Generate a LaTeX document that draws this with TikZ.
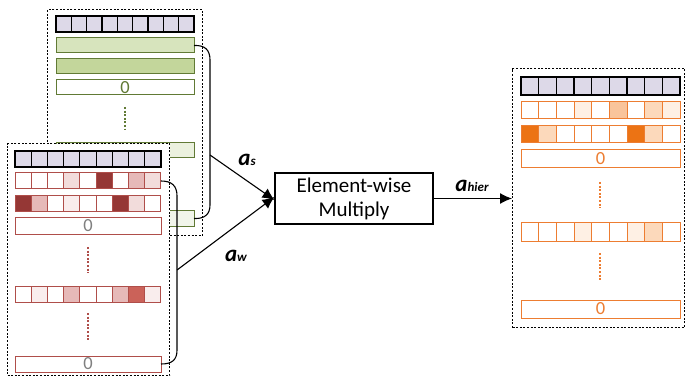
\documentclass[tikz,border=0pt]{standalone}
\usepackage{fontspec}
\setmainfont{Carlito}
\usetikzlibrary{arrows.meta}

\definecolor{lav}{HTML}{DDD9E8}
\definecolor{gline}{HTML}{617A35}
\definecolor{gA}{HTML}{D7E4BD}
\definecolor{gB}{HTML}{C3D69B}
\definecolor{gC}{HTML}{EBF1DE}
\definecolor{gD}{HTML}{F1F5EA}
\definecolor{rline}{HTML}{AF4E4A}
\definecolor{rd}{HTML}{953735}
\definecolor{rr}{HTML}{CB6259}
\definecolor{rm}{HTML}{E6B9B8}
\definecolor{rl}{HTML}{F2DCDB}
\definecolor{rv}{HTML}{F9EDED}
\definecolor{oline}{HTML}{ED7D31}
\definecolor{od}{HTML}{EC7314}
\definecolor{om}{HTML}{F9C49B}
\definecolor{ol}{HTML}{FCD9BB}
\definecolor{ov}{HTML}{FEF0E4}
\definecolor{zerotext}{HTML}{808080}

\tikzset{
  frame/.style={draw=black, line width=1.1pt, dash pattern=on 2pt off 1.6pt, fill=white},
  cellbox/.style={line width=1pt, inner sep=0pt, outer sep=0pt, anchor=north west},
  bar/.style={cellbox, minimum height=15pt, text=zerotext,
              font=\fontsize{18.5}{18.5}\selectfont},
  vdots/.style={line width=1.1pt, dash pattern=on 2pt off 1.6pt},
  conn/.style={draw=black, line width=1.1pt},
  arr/.style={conn, -{Latex[length=12pt,width=11pt]}},
  lbl/.style={font=\fontsize{23}{23}\selectfont\bfseries\itshape},
}

% one row of nine cells: name, x, y, cell width, height, line colour, fills
\newcommand\cellrow[7]{%
  \foreach \f [count=\i] in {#7}{%
    \node[cellbox, draw=#6, fill=\f, minimum width=#4pt, minimum height=#5pt]
      (#1-\i) at ({#2+(\i-1)*#4},#3) {};
  }%
}
\newcommand\sub[1]{\fontsize{13}{13}\selectfont #1}

\begin{document}
\begin{tikzpicture}[x=1pt,y=-1pt]
\useasboundingbox (0,0) rectangle (687,379);

% ---- sentence-level block (green) ----
\node[frame, anchor=north west, minimum width=155pt, minimum height=226pt, inner sep=0pt] (sbox) at (47,9) {};
\foreach \c in {1,...,9}{\node[cellbox,draw=black,line width=1.2pt,fill=lav,minimum width=15.33pt,minimum height=16pt] (sh-\c) at ({56+(\c-1)*15.33},16) {};}
\node[bar, draw=gline, fill=gA, minimum width=138pt] (g1) at (56,38) {};
\node[bar, draw=gline, fill=gB, minimum width=138pt] (g2) at (56,59) {};
\node[bar, draw=gline, fill=white, minimum width=138pt, text=gline] (g3) at (56,80) {0};
\draw[vdots, draw=gline] (125,107) -- (125,130);
\node[bar, draw=gline, fill=gC, minimum width=138pt] (g4) at (56,143) {};
\node[bar, draw=gline, fill=gD, minimum width=138pt] (g5) at (56,211) {};

% bracket gathering the sentence rows
\coordinate (sjoin) at (210,155);
\draw[conn] (g1.east) .. controls (205,45) and (210,50) .. (210,60)
  -- (210,205) .. controls (210,214) and (205,219) .. (g5.east);

% ---- word-level block (red) ----
\node[frame, anchor=north west, minimum width=162pt, minimum height=232pt, inner sep=0pt] (wbox) at (7,143) {};
\foreach \c in {1,...,9}{\node[cellbox,draw=black,line width=1.2pt,fill=lav,minimum width=16.22pt,minimum height=16pt] (wh-\c) at ({15+(\c-1)*16.22},151) {};}
\cellrow{w1}{15}{173}{16.22}{16}{rline}{white,white,white,rl,white,rd,white,rm,rl}
\cellrow{w2}{15}{196}{16.22}{16}{rline}{rd,rm,white,rv,white,white,rd,rl,white}
\node[bar, draw=rline, fill=white, minimum width=146pt, minimum height=16pt] (w3) at (15,218) {0};
\draw[vdots, draw=rline] (88,247) -- (88,273);
\cellrow{w4}{15}{286}{16.22}{16}{rline}{white,rv,white,rm,white,white,rm,rr,rv}
\draw[vdots, draw=rline] (88,313) -- (88,340);
\node[bar, draw=rline, fill=white, minimum width=146pt, minimum height=16pt] (w5) at (15,356) {0};

% bracket gathering the word rows
\coordinate (wjoin) at (177,270);
\draw[conn] (w1-9.east) .. controls (172,181) and (177,186) .. (177,196)
  -- (177,350) .. controls (177,360) and (172,364) .. (w5.east);

% ---- combination ----
\node[draw=black, line width=1.1pt, minimum width=158pt, minimum height=51pt,
      align=center, font=\fontsize{21}{24}\selectfont, inner sep=0pt] (mul) at (354,198.5)
      {Element-wise\\Multiply};
\draw[arr] (sjoin) -- ([yshift=-1.5pt]mul.west);
\draw[arr] (wjoin) -- ([yshift=1.5pt]mul.west);
\node[lbl] (las) at (247,160) {a\sub{s}};
\node[lbl] (law) at (236,256) {a\sub{w}};

% ---- hierarchical result (orange) ----
\node[frame, anchor=north west, minimum width=172pt, minimum height=259pt, inner sep=0pt] (hbox) at (512,68) {};
\foreach \c in {1,...,9}{\node[cellbox,draw=black,line width=1.2pt,fill=lav,minimum width=17.67pt,minimum height=18pt] (hh-\c) at ({521+(\c-1)*17.67},77) {};}
\cellrow{h1}{521}{102}{17.67}{17}{oline}{white,white,white,ov,white,om,white,ol,ov}
\cellrow{h2}{521}{126}{17.67}{17}{oline}{od,ol,white,white,white,white,od,ol,white}
\node[bar, draw=oline, fill=white, minimum width=159pt, minimum height=18pt, text=oline] (h3) at (521,150) {0};
\draw[vdots, draw=oline] (600,182) -- (600,208);
\cellrow{h4}{521}{223}{17.67}{18}{oline}{white,white,white,ov,white,white,ov,ol,white}
\draw[vdots, draw=oline] (600,253) -- (600,280);
\node[bar, draw=oline, fill=white, minimum width=159pt, minimum height=18pt, text=oline] (h5) at (521,300) {0};

\draw[arr] (mul.east) -- (hbox.west |- mul.east);
\node[lbl] (lah) at (472,186) {a\sub{hier}};
\end{tikzpicture}
\end{document}
